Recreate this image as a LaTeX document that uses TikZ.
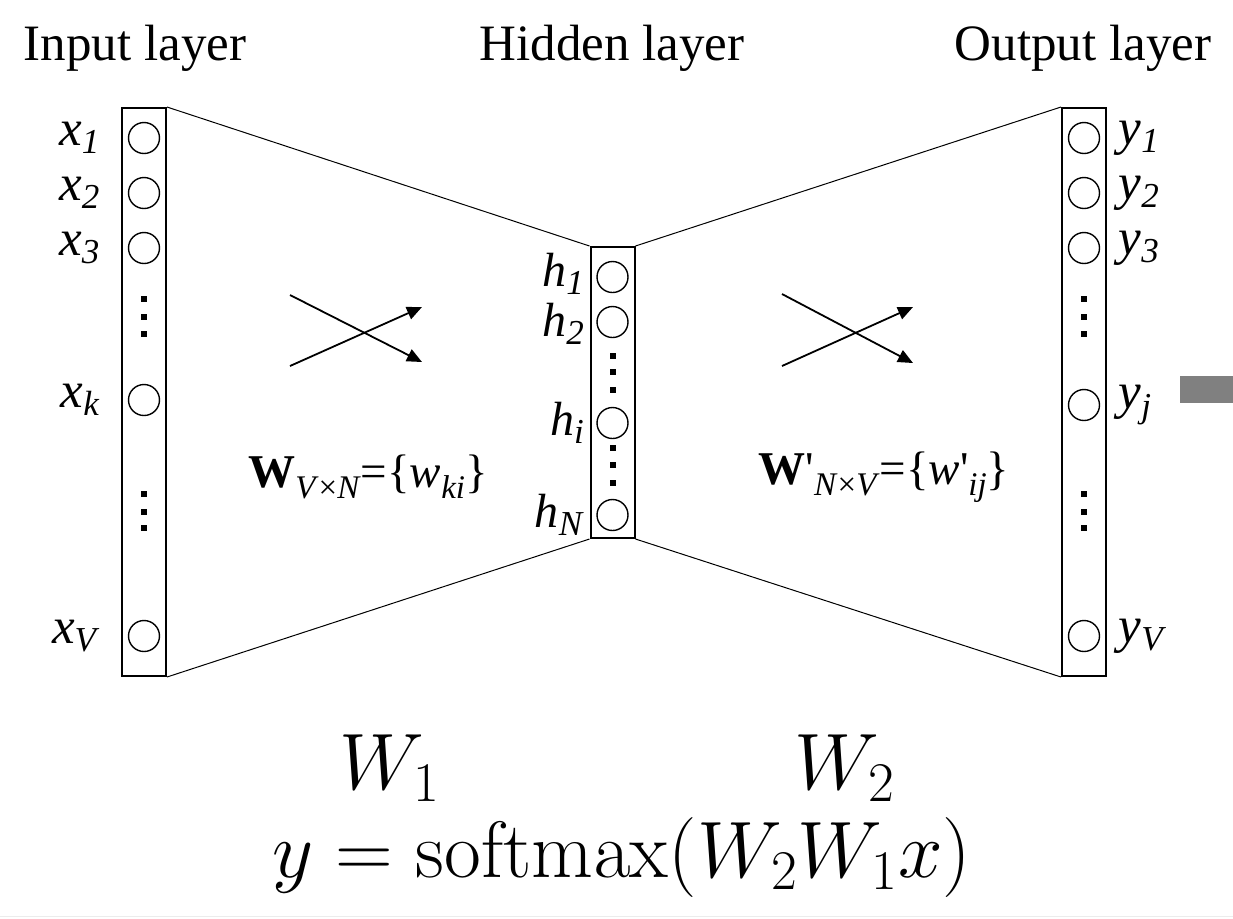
\documentclass[tikz,border=0pt]{standalone}
\usepackage{fix-cm}
\usepackage[no-math]{fontspec}
\setmainfont{Liberation Serif}
\usepackage{amsmath}
\usetikzlibrary{positioning,arrows.meta}

\tikzset{
  layer/.style={draw, line width=1pt, minimum width=22pt, inner sep=0pt},
  unit/.style={draw, circle, line width=0.7pt, minimum size=15.5pt, inner sep=0pt},
  wire/.style={line width=0.5pt},
  flow/.style={line width=0.9pt, -{Triangle[length=7.5pt,width=6.5pt]}},
  unitlab/.style={inner sep=0pt},
}
\newcommand{\lab}[2]{\textit{#1}\raisebox{-0.35ex}{\fontsize{17.5}{17.5}\selectfont\textit{#2}}}
\newcommand{\wsub}[1]{\raisebox{-0.5ex}{\fontsize{16.5}{16.5}\selectfont#1}}
\newcommand{\sqdots}[2]{\fill (#1,#2) ++(-3,-3) rectangle ++(6,6);}

\begin{document}
\begin{tikzpicture}[x=0.5pt, y=-0.5pt]
  \useasboundingbox (0,0) rectangle (1233,918);
  \fontsize{25.5}{27}\selectfont

  % Layer titles
  \node (tin)  at (135,48)  {Input layer};
  \node (thid) at (612,48)  {Hidden layer};
  \node (tout) at (1083,48) {Output layer};

  % Layer boxes
  \node[layer, minimum height=284pt]   (inbox)  at (144,392)   {};
  \node[layer, minimum height=145.5pt] (hidbox) at (612.5,392.5) {};
  \node[layer, minimum height=284pt]   (outbox) at (1084,392)  {};

  % Funnel lines between layers
  \draw[wire] (inbox.north east)  -- (hidbox.north west);
  \draw[wire] (inbox.south east)  -- (hidbox.south west);
  \draw[wire] (hidbox.north east) -- (outbox.north west);
  \draw[wire] (hidbox.south east) -- (outbox.south west);

  % Input units
  \foreach \n/\y in {1/138, 2/193, 3/248, k/400, V/636} {
    \node[unit] (x\n) at (144,\y) {};
    \node[unitlab, left=14pt of x\n] (lx\n) {\lab{x}{\n}};
  }
  \foreach \y in {299,317,334,494,512,528} {\sqdots{144}{\y}}

  % Hidden units
  \foreach \n/\y/\dy in {1/277/1.5pt, 2/322/-1pt, i/423/0pt, N/515/0pt} {
    \node[unit] (h\n) at (612.5,\y) {};
    \node[unitlab, left=6pt of h\n, yshift=\dy,
          font=\fontsize{24}{25}\selectfont] (lh\n) {\lab{h}{\n}};
  }
  \foreach \y in {356,372,390,448,465,483} {\sqdots{612.5}{\y}}

  % Output units
  \foreach \n/\y in {1/138, 2/193, 3/248, j/405, V/636} {
    \node[unit] (y\n) at (1084,\y) {};
    \node[unitlab, right=9pt of y\n] (ly\n) {\lab{y}{\n}};
  }
  \foreach \y in {299,317,334,494,512,528} {\sqdots{1084}{\y}}

  % Crossing arrows
  \coordinate (a1) at (290,295); \coordinate (a2) at (422,362);
  \coordinate (a3) at (290,366); \coordinate (a4) at (422,307);
  \draw[flow] (a1) -- (a2);
  \draw[flow] (a3) -- (a4);
  \coordinate (b1) at (782,294); \coordinate (b2) at (913,363);
  \coordinate (b3) at (782,366); \coordinate (b4) at (913,307);
  \draw[flow] (b1) -- (b2);
  \draw[flow] (b3) -- (b4);

  % Weight labels
  \node (wa) at (368,477) {\fontsize{23.5}{25}\selectfont\textbf{W}\wsub{\textit{V}×\textit{N}}=\{\textit{w}\wsub{\textit{ki}}\}};
  \node (wb) at (884,477) {\fontsize{23.5}{25}\selectfont\textbf{W}\textquotesingle\wsub{\textit{N}×\textit{V}}=\{\textit{w}\textquotesingle\wsub{\textit{ij}}\}};

  % Grey bar on the right
  \fill[gray] (1180,376) rectangle (1233,403);

  % Bottom formulas
  \node[inner sep=0pt] (w1) at (390,768) {\fontsize{40}{42}\selectfont$W_1$};
  \node[inner sep=0pt] (w2) at (845,768) {\fontsize{40}{42}\selectfont$W_2$};
  \node[inner sep=0pt] (eq) at (622,857) {\fontsize{40}{42}\selectfont$y=\mathrm{softmax}(W_2W_1x)$};

  \draw[gray!15] (0,916) -- (1233,916);
\end{tikzpicture}
\end{document}
